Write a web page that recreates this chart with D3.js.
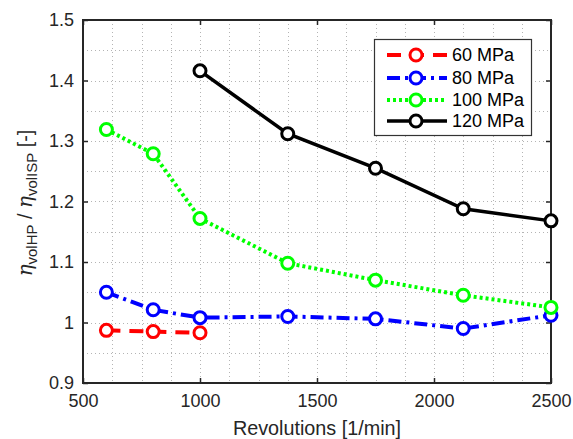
<!DOCTYPE html>
<html><head><meta charset="utf-8">
<script src="https://cdn.jsdelivr.net/npm/d3@7"></script>
<style>body{margin:0;background:#fff}text{font-family:"Liberation Sans",Arial,sans-serif}</style>
</head><body><svg id="c" width="573" height="439"></svg>
<script>
const rpm = [600, 800, 1000, 1375, 1750, 2125, 2500];
const p60 = [0.987, 0.985, 0.983];
const p80 = [1.050, 1.021, 1.008, 1.010, 1.006, 0.990, 1.012];
const p100 = [1.319, 1.279, 1.172, 1.098, 1.070, 1.045, 1.025];
const p120 = [1.416, 1.312, 1.255, 1.188, 1.168];
const xTicks = [500, 1000, 1500, 2000, 2500];
const yTicks = [0.9, 1, 1.1, 1.2, 1.3, 1.4, 1.5];
const seriesNames = ["60 MPa", "80 MPa", "100 MPa", "120 MPa"];

const series = [
  {name: seriesNames[0], x: rpm.slice(0, 3), y: p60, color: "#ff0000", dash: "14,9", w: 4},
  {name: seriesNames[1], x: rpm, y: p80, color: "#0000ff", dash: "13,5,3,5", w: 4},
  {name: seriesNames[2], x: rpm, y: p100, color: "#00ff00", dash: "3,3", w: 4},
  {name: seriesNames[3], x: rpm.slice(2), y: p120, color: "#000000", dash: null, w: 3.5}
];

const L = 83, R = 551, T = 20, B = 383;
const svg = d3.select("#c");
const x = d3.scaleLinear().domain([500, 2500]).range([L, R]);
const y = d3.scaleLinear().domain([0.9, 1.5]).range([B, T]);
const axisCol = "#262626";

// grid
const gx = d3.range(500, 2501, 125), gy = d3.range(0.9, 1.5001, 0.05);
const grid = svg.append("g").attr("stroke", "#b4b4b4").attr("stroke-width", 1).attr("stroke-dasharray", "1,3");
grid.selectAll(".gx").data(gx).join("line").attr("x1", d => Math.round(x(d)) + 0.5).attr("x2", d => Math.round(x(d)) + 0.5).attr("y1", T).attr("y2", B);
grid.selectAll(".gy").data(gy).join("line").attr("y1", d => Math.round(y(d)) + 0.5).attr("y2", d => Math.round(y(d)) + 0.5).attr("x1", L).attr("x2", R);

// axes
const fs = 18;
const ax = svg.append("g").attr("transform", `translate(0,${B})`)
  .call(d3.axisBottom(x).tickValues(xTicks).tickSize(-5).tickPadding(11).tickFormat(d3.format("d")));
const axT = svg.append("g").attr("transform", `translate(0,${T})`)
  .call(d3.axisTop(x).tickValues(xTicks).tickSize(-5).tickFormat(""));
const ay = svg.append("g").attr("transform", `translate(${L},0)`)
  .call(d3.axisLeft(y).tickValues(yTicks).tickSize(-5).tickPadding(9).tickFormat(d => d === 1 ? "1" : d3.format(".1f")(d)));
const ayR = svg.append("g").attr("transform", `translate(${R},0)`)
  .call(d3.axisRight(y).tickValues(yTicks).tickSize(-5).tickFormat(""));
[ax, axT, ay, ayR].forEach(g => {
  g.select(".domain").remove();
  g.selectAll("line").attr("stroke", axisCol).attr("stroke-width", 1.5);
  g.selectAll("text").attr("fill", axisCol).style("font-size", fs + "px").style("font-family", "'Liberation Sans',Arial,sans-serif");
});
ax.selectAll("text").attr("dy", "0.71em");
svg.append("rect").attr("x", L).attr("y", T).attr("width", R - L).attr("height", B - T)
  .attr("fill", "none").attr("stroke", axisCol).attr("stroke-width", 2);

// lines
const line = d3.line().x(d => x(d[0])).y(d => y(d[1]));
series.forEach(s => {
  const pts = s.x.map((v, i) => [v, s.y[i]]);
  svg.append("path").attr("d", line(pts)).attr("fill", "none").attr("stroke", s.color)
    .attr("stroke-width", s.w).attr("stroke-dasharray", s.dash);
  svg.selectAll(null).data(pts).join("circle").attr("cx", d => x(d[0])).attr("cy", d => y(d[1])).attr("r", 6)
    .attr("fill", "#fff").attr("stroke", s.color).attr("stroke-width", 3);
});

// legend
const lg = svg.append("g");
lg.append("rect").attr("x", 374.5).attr("y", 39.5).attr("width", 157).attr("height", 96)
  .attr("fill", "#fff").attr("stroke", "#333").attr("stroke-width", 1.2);
const ly = [55, 78, 100, 121];
series.forEach((s, i) => {
  lg.append("line").attr("x1", 387).attr("x2", 447).attr("y1", ly[i]).attr("y2", ly[i])
    .attr("stroke", s.color).attr("stroke-width", s.w).attr("stroke-dasharray", s.dash);
  lg.append("circle").attr("cx", 416).attr("cy", ly[i]).attr("r", 6).attr("fill", "#fff").attr("stroke", s.color).attr("stroke-width", 3);
  lg.append("text").attr("x", 452).attr("y", ly[i]).attr("dy", "0.36em").style("font-size", "18px").attr("fill", "#000").text(s.name);
});

// axis labels
svg.append("text").attr("x", (L + R) / 2).attr("y", 435).attr("text-anchor", "middle")
  .style("font-size", "19.8px").attr("fill", axisCol).text("Revolutions [1/min]");
const yl = svg.append("text").attr("transform", "translate(32,203) rotate(-90)").attr("text-anchor", "middle")
  .style("font-size", "19.8px").attr("fill", axisCol);
yl.append("tspan").style("font-family", "'DejaVu Serif',serif").style("font-style", "italic").text("η");
yl.append("tspan").attr("dy", 5).style("font-size", "15px").text("volHP");
yl.append("tspan").attr("dy", -5).text(" / ");
yl.append("tspan").style("font-family", "'DejaVu Serif',serif").style("font-style", "italic").text("η");
yl.append("tspan").attr("dy", 5).style("font-size", "15px").text("volISP");
yl.append("tspan").attr("dy", -5).text(" [-]");
</script></body></html>
